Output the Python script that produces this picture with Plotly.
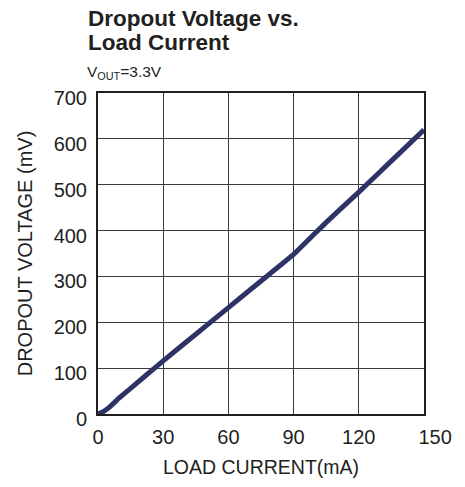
import plotly.graph_objects as go

current_ma = [0, 2, 5, 10, 15, 30, 45, 60, 75, 90, 105, 120, 135, 150]
dropout_mv = [0, 4, 14, 36, 56, 116, 174, 232, 290, 348, 418, 484, 552, 620]
x_ticks = [0, 30, 60, 90, 120, 150]
x_tick_labels = ["0", "30", "60", "90", "120", "\u00a0\u00a0\u00a0\u00a0150"]
y_ticks = [0, 100, 200, 300, 400, 500, 600, 700]

FONT = "Liberation Sans, Arial, sans-serif"
INK = "#231f20"

fig = go.Figure()
fig.add_trace(go.Scatter(x=current_ma, y=dropout_mv, mode="lines",
                         line=dict(color="#2d3366", width=5, shape="spline", smoothing=0.2),
                         showlegend=False, hoverinfo="skip"))

fig.update_layout(
    width=465, height=487,
    margin=dict(l=98, r=41, t=93, b=68),
    paper_bgcolor="white", plot_bgcolor="white",
    font=dict(family=FONT, color=INK),
    xaxis=dict(range=[0, 150], tickvals=x_ticks, ticktext=x_tick_labels,
               showgrid=True, gridcolor="#3a3a3a", gridwidth=1,
               showline=True, linecolor=INK, linewidth=2, mirror=True, zeroline=False,
               ticks="", tickfont=dict(size=20), ticklabelstandoff=4,
               title=dict(text="LOAD CURRENT(mA)", font=dict(size=19.5), standoff=13)),
    yaxis=dict(range=[0, 700], tickvals=y_ticks, showgrid=True, gridcolor="#3a3a3a", gridwidth=1,
               showline=True, linecolor=INK, linewidth=2, mirror=True, zeroline=False,
               ticks="", tickfont=dict(size=20), ticklabelstandoff=5, ticklabelshift=5,
               title=dict(text="DROPOUT VOLTAGE (mV)", font=dict(size=20), standoff=16)),
    annotations=[
        dict(text="<b>Dropout Voltage vs.</b>", xref="paper", yref="paper",
             x=-0.036, y=1.0, yshift=75, xanchor="left", yanchor="middle", align="left",
             showarrow=False, font=dict(size=22.5, color=INK)),
        dict(text="<b>Load Current</b>", xref="paper", yref="paper",
             x=-0.036, y=1.0, yshift=51, xanchor="left", yanchor="middle", align="left",
             showarrow=False, font=dict(size=22.5, color=INK)),
        dict(text="V<sub>OUT</sub>=3.3V", xref="paper", yref="paper",
             x=-0.04, y=1.0, yshift=21, xanchor="left", yanchor="middle", align="left",
             showarrow=False, font=dict(size=15.5, color=INK)),
    ],
)

# remove the browser's default 8px body margin so the figure sits at the page corner
fig.write_html("out.html", config={"displayModeBar": False},
               post_script="document.body.style.margin='0';")
